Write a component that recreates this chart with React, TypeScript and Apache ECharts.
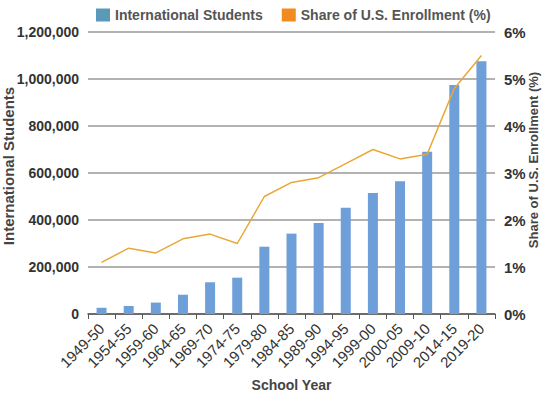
import React, { useEffect, useRef } from "react";
import * as echarts from "echarts";

const categories = ["1949-50","1954-55","1959-60","1964-65","1969-70","1974-75","1979-80","1984-85","1989-90","1994-95","1999-00","2000-05","2009-10","2014-15","2019-20"];
const students = [26433, 34232, 48486, 82045, 134959, 154580, 286343, 342113, 386851, 452635, 514723, 565039, 690923, 974926, 1075496];
const sharePct = [1.1, 1.4, 1.3, 1.6, 1.7, 1.5, 2.5, 2.8, 2.9, 3.2, 3.5, 3.3, 3.4, 4.8, 5.5];
const leftTicks = { min: 0, max: 1200000, interval: 200000 };
const rightTicks = { min: 0, max: 6, interval: 1 };

const FONT = "'Liberation Sans', Arial, sans-serif";

export default function App() {
  const ref = useRef<HTMLDivElement>(null);
  useEffect(() => {
    if (!ref.current) return;
    const chart = echarts.init(ref.current, undefined, { renderer: "svg" });
    chart.setOption({
      animation: false,
      textStyle: { fontFamily: FONT },
      legend: {
        top: 3,
        left: 91,
        itemWidth: 14,
        itemHeight: 13,
        itemGap: 19,
        textStyle: { fontFamily: FONT, fontSize: 14, fontWeight: "bold", color: "#555" },
        data: [
          { name: "International Students", icon: "rect", itemStyle: { color: "#5b99b9" } },
          { name: "Share of U.S. Enrollment (%)", icon: "rect", itemStyle: { color: "#f28b1f" } },
        ],
      },
      grid: { left: 88, right: 55, top: 32, bottom: 84, containLabel: false, outerBoundsMode: "none" },
      xAxis: {
        type: "category",
        data: categories,
        name: "School Year",
        nameLocation: "middle",
        nameGap: 64,
        nameMoveOverlap: false,
        nameTextStyle: { fontFamily: FONT, fontSize: 14, fontWeight: "bold", color: "#444" },
        axisLine: { lineStyle: { color: "#555", width: 1.5 } },
        axisTick: { show: true, length: 5, lineStyle: { color: "#555" } },
        axisLabel: { rotate: 45, interval: 0, fontFamily: FONT, fontSize: 15, color: "#333", margin: 12 },
      },
      yAxis: [
        {
          type: "value",
          ...leftTicks,
          name: "International Students",
          nameLocation: "middle",
          nameGap: 72,
          nameMoveOverlap: false,
          nameTextStyle: { fontFamily: FONT, fontSize: 15, fontWeight: "bold", color: "#444", padding: [0, 0, 0, 14] },
          axisLine: { show: false },
          axisTick: { show: false },
          splitLine: { lineStyle: { color: "#999", width: 1.5 } },
          axisLabel: {
            fontFamily: FONT, fontSize: 14, fontWeight: "bold", color: "#333", margin: 9,
            formatter: (v: number) => v.toLocaleString("en-US"),
          },
        },
        {
          type: "value",
          ...rightTicks,
          name: "Share of U.S. Enrollment (%)",
          nameLocation: "middle",
          nameGap: 32,
          nameMoveOverlap: false,
          nameTextStyle: { fontFamily: FONT, fontSize: 13, fontWeight: "bold", color: "#444", padding: [0, 0, 0, 26] },
          axisLine: { show: false },
          axisTick: { show: false },
          splitLine: { show: false },
          axisLabel: { fontFamily: FONT, fontSize: 15, fontWeight: "bold", color: "#333", margin: 9, formatter: "{value}%" },
        },
      ],
      series: [
        {
          name: "International Students",
          type: "bar",
          data: students,
          barWidth: 10,
          itemStyle: { color: "#6f9fd9" },
          yAxisIndex: 0,
        },
        {
          name: "Share of U.S. Enrollment (%)",
          type: "line",
          data: sharePct,
          yAxisIndex: 1,
          symbol: "none",
          lineStyle: { color: "#e8a838", width: 1.5 },
          itemStyle: { color: "#e8a838" },
        },
      ],
    });
    return () => chart.dispose();
  }, []);
  return <div ref={ref} style={{ width: 550, height: 398, position: "absolute", left: 0, top: 0 }} />;
}
